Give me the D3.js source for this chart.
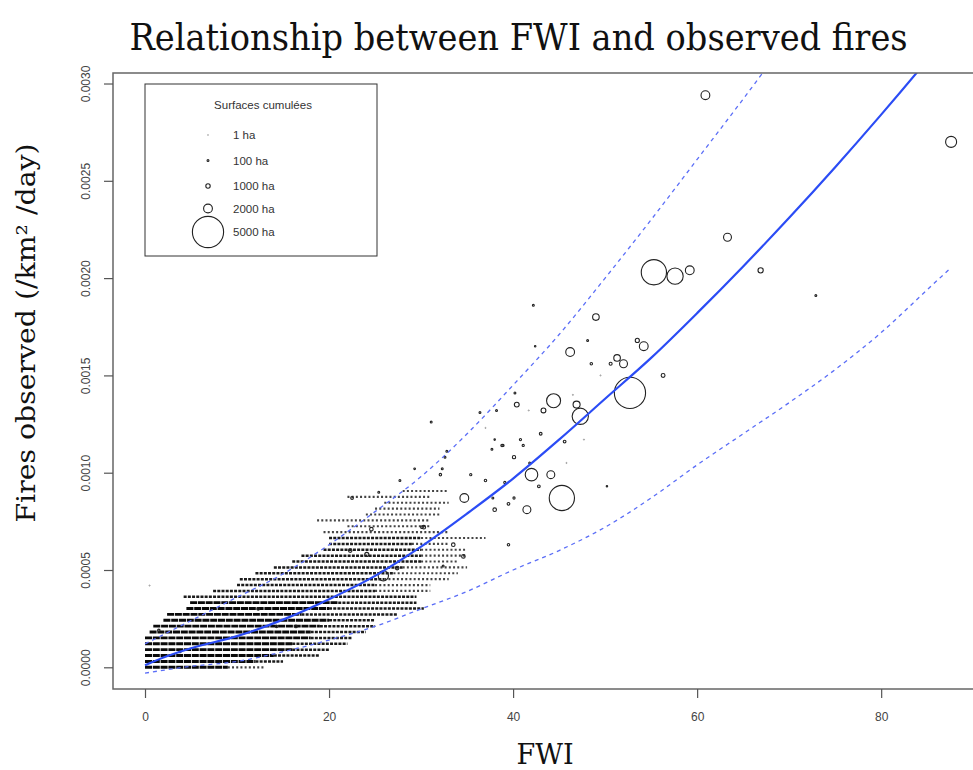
<!DOCTYPE html>
<html><head><meta charset="utf-8">
<script src="https://cdn.jsdelivr.net/npm/d3@7"></script>
<style>body{margin:0;background:#fff} svg{display:block}</style>
</head><body>
<svg id="chart" width="973" height="770"></svg>
<script>
// ---------- data ----------
const xTicks = [0, 20, 40, 60, 80];
const yTicks = [0, 0.0005, 0.001, 0.0015, 0.002, 0.0025, 0.003];

// fitted mean curve and prediction band
const fitFWI  = [0, 2, 5, 10, 15, 20, 25, 30, 35, 40, 45, 50, 55, 60, 65, 70, 75, 80, 85, 87.6];
const fitMean = [0.00001, 0.00005, 0.000098, 0.00016, 0.000245, 0.00035, 0.00047, 0.00062, 0.00079, 0.00097, 0.00117, 0.00138, 0.00159, 0.00182, 0.00206, 0.00231, 0.00257, 0.00284, 0.00312, 0.00327];
const upperFWI = [0, 5, 10, 15, 20, 25, 30, 35, 40, 45, 50, 55, 60, 65, 68];
const upperVal = [0.00012, 0.00024, 0.00036, 0.00048, 0.00063, 0.0008, 0.00098, 0.0012, 0.00145, 0.00171, 0.002, 0.0023, 0.00261, 0.00292, 0.00311];
const lowerFWI = [0, 5, 10, 15, 20, 25, 30, 35, 40, 45, 50, 55, 60, 65, 70, 75, 80, 85, 87.5];
const lowerVal = [-0.00003, 0.000005, 0.00003, 0.00008, 0.00014, 0.00021, 0.0003, 0.00039, 0.0005, 0.0006, 0.00072, 0.00087, 0.00104, 0.0012, 0.00136, 0.00153, 0.00172, 0.00194, 0.00205];

// dense cloud of daily observations: observed values are multiples of one fire unit
const fireUnit = 0.0000302;
const cloudK     = [0,0, 1,1, 2,2, 3,3, 4,4, 5,5, 6,6, 7,7, 8,8, 9,9, 10,10, 11,11, 12, 13,13, 14,14, 15,15, 16,16, 17,17, 18,18, 19,19, 20,20, 21,21, 22,22, 23, 24, 25, 26, 27, 28, 29, 30];
const cloudStart = [0,9, 0,12, 0,14, 0,16, 0,16, 0,18, 0.5,18, 0.9,19, 2,20, 2.4,17, 4.5,20, 4.9,21, 4.2, 7.4,25, 10,25, 10.3,26, 12,27, 14,28, 16,30, 17,30, 19.4,30, 20,29, 20,30, 19.4, 22, 18.7, 24, 25, 26, 22, 28];
const cloudEnd   = [9,13, 12,15, 14,19, 16,20, 16,22, 18,22.5, 18,24, 19,25, 20,25, 17,27.4, 20,30.3, 21,29.5, 29.5, 25,31, 25,31, 26,33, 27,34, 28,35, 30,34, 30,35, 30,35, 29,33, 30,37, 33, 31, 31, 32, 32, 33, 31, 33];
const cloudLevel = [3,1, 3,2, 3,2, 3,2, 3,2, 3,2, 3,2, 3,2, 3,2, 3,2, 3,2, 3,2, 2, 2,1, 2,1, 2,1, 2,1, 2,1, 2,1, 2,1, 2,1, 2,1, 2,1, 1, 1, 1, 1, 1, 1, 1, 1];

// individual days (FWI, fires observed, cumulated burnt surface in ha)
const pointFWI   = [60.9, 87.6, 63.3, 55.3, 57.6, 59.2, 66.9, 72.9, 49.0, 48.1, 54.2, 53.5, 51.3, 52.0, 50.6, 48.5, 49.5, 56.3, 52.7, 42.2,
                    42.4, 46.2, 40.2, 44.4, 40.4, 43.3, 46.9, 47.3, 36.4, 38.2, 41.7, 46.5, 31.1, 37.0, 43.0, 45.6, 47.7, 38.0, 38.9, 40.8,
                    41.1, 40.1, 41.8, 45.8, 42.0, 44.1, 42.8, 45.3, 50.2, 41.5, 38.0, 39.5, 34.7, 37.8, 40.1, 39.1, 32.3, 32.1, 35.4, 37.0,
                    30.1, 25.4, 27.7, 29.3, 32.6, 32.8, 37.7, 38.8, 22.5, 30.3, 24.6, 33.5, 34.6, 39.5, 24.1, 27.4, 25.9, 32.4, 0.5, 12.3,
                    1.5, 16.4, 14.3, 22.3, 3.8];
const pointFires = [0.00294, 0.0027, 0.00221, 0.00203, 0.00201, 0.00204, 0.00204, 0.00191, 0.0018, 0.00168, 0.00165, 0.00168, 0.00159, 0.00156, 0.00156, 0.00156, 0.0015, 0.0015, 0.00141, 0.00186,
                    0.00165, 0.00162, 0.00141, 0.00137, 0.00135, 0.00132, 0.00135, 0.00129, 0.00131, 0.00132, 0.00132, 0.0014, 0.00126, 0.00123, 0.0012, 0.00116, 0.00117, 0.00117, 0.00114, 0.00117,
                    0.00114, 0.00108, 0.00105, 0.00105, 0.00099, 0.00099, 0.00093, 0.00087, 0.00093, 0.00081, 0.00081, 0.00084, 0.00087, 0.00087, 0.00087, 0.00095, 0.00102, 0.00099, 0.00099, 0.00096,
                    0.00072, 0.0009, 0.00096, 0.00102, 0.00108, 0.00111, 0.00112, 0.00114, 0.00087, 0.00072, 0.00071, 0.00063, 0.00057, 0.00063, 0.00058, 0.00051, 0.00047, 0.00052, 0.00042, 0.0003,
                    0.00019, 0.00021, 0.00021, 0.0006, 0.00008];
const pointArea  = [2000, 2300, 1800, 4200, 3000, 2000, 1200, 100, 1500, 100, 2000, 900, 1500, 1800, 500, 300, 30, 800, 5000, 100,
                    60, 2000, 100, 2700, 1100, 1100, 1600, 3000, 100, 100, 30, 30, 100, 30, 400, 400, 30, 60, 200, 200,
                    200, 600, 100, 30, 2500, 1800, 400, 4200, 60, 1800, 700, 400, 2000, 100, 200, 200, 100, 300, 200, 300,
                    400, 100, 100, 80, 100, 100, 100, 300, 400, 700, 700, 700, 700, 300, 900, 700, 2200, 100, 30, 300,
                    300, 400, 300, 700, 200];

const legendAreas  = [1, 100, 1000, 2000, 5000];
const legendLabels = ["1 ha", "100 ha", "1000 ha", "2000 ha", "5000 ha"];

// ---------- drawing ----------
const svg = d3.select("#chart");
const plot = {left: 113, top: 73, right: 987, bottom: 689};
const x = d3.scaleLinear().domain([-3.478, 91.5]).range([plot.left, plot.right]);
const y = d3.scaleLinear().domain([-0.0001115, 0.003054]).range([plot.bottom, plot.top]);
const r = d3.scaleLinear().domain([0, 1, 100, 1000, 2000, 5000]).range([0.25, 0.4, 0.95, 2.2, 4.4, 15.6]);

svg.append("defs").append("clipPath").attr("id", "clip")
  .append("rect").attr("x", plot.left).attr("y", plot.top)
  .attr("width", plot.right - plot.left).attr("height", plot.bottom - plot.top);

const g = svg.append("g").attr("clip-path", "url(#clip)");

// cloud rows
const levelStyle = {
  3: {stroke: "#0a0a0a", width: 2.9, dash: "7,0.8"},
  2: {stroke: "#1c1c1c", width: 2.5, dash: "3,1.2"},
  1: {stroke: "#444", width: 2.2, dash: "2,2.2"}
};
const rows = cloudK.map((k, i) => ({k, s: cloudStart[i], e: cloudEnd[i], lv: cloudLevel[i]}));
g.append("g").selectAll("line").data(rows).join("line")
  .attr("x1", d => x(d.s)).attr("x2", d => x(d.e))
  .attr("y1", d => y(d.k * fireUnit)).attr("y2", d => y(d.k * fireUnit))
  .attr("stroke", d => levelStyle[d.lv].stroke)
  .attr("stroke-width", d => levelStyle[d.lv].width)
  .attr("stroke-dasharray", d => levelStyle[d.lv].dash);

// individual points
const pts = pointFWI.map((f, i) => ({f, v: pointFires[i], a: pointArea[i]}));
g.append("g").selectAll("circle").data(pts).join("circle")
  .attr("cx", d => x(d.f)).attr("cy", d => y(d.v)).attr("r", d => r(d.a))
  .attr("fill", "none")
  .attr("stroke", d => d.a <= 30 ? "#888" : "#222")
  .attr("stroke-width", d => d.a <= 30 ? 0.8 : 1.1);

// curves
const mk = (xs, ys) => xs.map((v, i) => [v, ys[i]]);
const line = d3.line().x(d => x(d[0])).y(d => y(d[1])).curve(d3.curveMonotoneX);
g.append("path").attr("d", line(mk(upperFWI, upperVal)))
  .attr("fill", "none").attr("stroke", "#5b6ef7").attr("stroke-width", 1.3).attr("stroke-dasharray", "4,4");
g.append("path").attr("d", line(mk(lowerFWI, lowerVal)))
  .attr("fill", "none").attr("stroke", "#5b6ef7").attr("stroke-width", 1.3).attr("stroke-dasharray", "4,4");
g.append("path").attr("d", line(mk(fitFWI, fitMean)))
  .attr("fill", "none").attr("stroke", "#2b4cf5").attr("stroke-width", 2.2);

// box
svg.append("rect").attr("x", plot.left).attr("y", plot.top)
  .attr("width", plot.right - plot.left).attr("height", plot.bottom - plot.top)
  .attr("fill", "none").attr("stroke", "#666").attr("stroke-width", 1.5);

// axes
const xAxis = svg.append("g").attr("transform", `translate(0,${plot.bottom})`)
  .call(d3.axisBottom(x).tickValues(xTicks).tickSize(9).tickPadding(14).tickFormat(d3.format("d")));
const yAxis = svg.append("g").attr("transform", `translate(${plot.left},0)`)
  .call(d3.axisLeft(y).tickValues(yTicks).tickSize(9).tickPadding(0).tickFormat(d3.format(".4f")));
[xAxis, yAxis].forEach(a => {
  a.select(".domain").remove();
  a.selectAll(".tick line").attr("stroke", "#555").attr("stroke-width", 1.2);
  a.selectAll("text").attr("fill", "#444").style("font-family", "'Liberation Sans', Arial, sans-serif").style("font-size", "12px");
});
yAxis.selectAll(".tick text")
  .attr("x", null).attr("dy", null)
  .attr("text-anchor", "middle")
  .attr("transform", "translate(-27,0) rotate(-90)")
  .attr("dy", "0.35em");

// legend
const lg = svg.append("g");
lg.append("rect").attr("x", 145).attr("y", 84).attr("width", 232).attr("height", 172)
  .attr("fill", "#fff").attr("stroke", "#333").attr("stroke-width", 1);
lg.append("text").attr("x", 263).attr("y", 109).attr("text-anchor", "middle")
  .style("font-family", "'Liberation Sans', Arial, sans-serif").style("font-size", "11.5px").attr("fill", "#333")
  .text("Surfaces cumulées");
const legY = [135, 160.5, 186, 208.5, 232];
const le = lg.selectAll("g.item").data(legendAreas).join("g").attr("class", "item");
le.append("circle").attr("cx", 208).attr("cy", (d, i) => legY[i]).attr("r", d => r(d))
  .attr("fill", "none").attr("stroke", d => d <= 30 ? "#888" : "#222").attr("stroke-width", d => d <= 30 ? 0.8 : 1.1);
le.append("text").attr("x", 233).attr("y", (d, i) => legY[i]).attr("dy", "0.35em")
  .style("font-family", "'Liberation Sans', Arial, sans-serif").style("font-size", "11.5px").attr("fill", "#333")
  .text((d, i) => legendLabels[i]);

// titles (horizontally scaled with a transform to match the slab-serif width)
svg.append("text").attr("transform", "translate(518.5,50) scale(0.91,1)").attr("text-anchor", "middle")
  .style("font-family", "'DejaVu Serif', serif").style("font-size", "37px").attr("fill", "#111")
  .text("Relationship between FWI and observed fires");
svg.append("text").attr("x", 545).attr("y", 764).attr("text-anchor", "middle")
  .style("font-family", "'DejaVu Serif', serif").style("font-size", "27px").attr("fill", "#111")
  .text("FWI");
svg.append("text").attr("transform", "translate(35,333) rotate(-90) scale(1.09,1)").attr("text-anchor", "middle")
  .style("font-family", "'DejaVu Serif', serif").style("font-size", "26px").attr("fill", "#111")
  .text("Fires observed (/km² /day)");
</script>
</body></html>
